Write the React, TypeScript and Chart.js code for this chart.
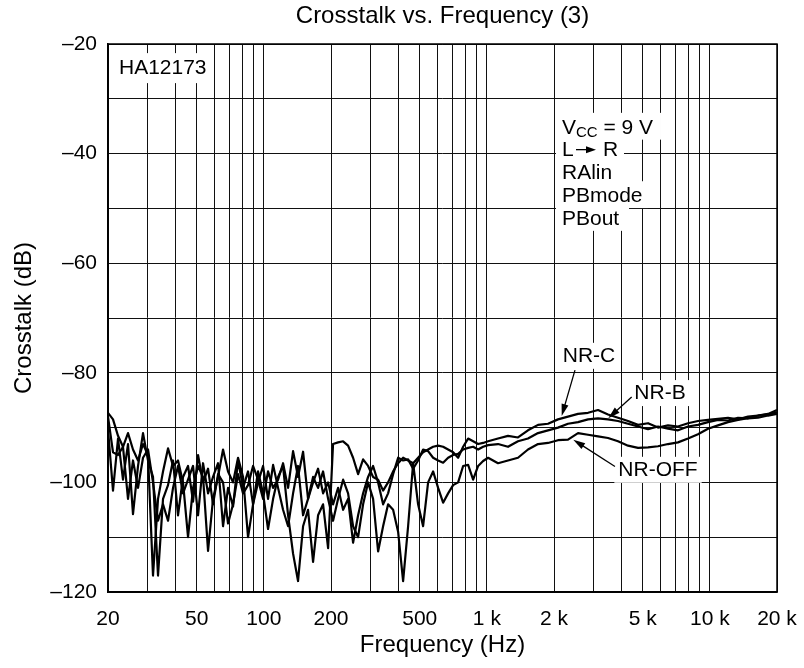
import React, { useEffect, useRef } from "react";
import { Chart, registerables } from "chart.js";

Chart.register(...registerables);

const FONT = '"Liberation Sans", Arial, Helvetica, sans-serif';

const FREQ_HZ = [
  20, 21.06, 22.18, 23.35, 24.59, 25.89, 27.27, 28.71, 30.23, 31.83,
  33.52, 35.3, 37.17, 39.14, 41.21, 43.4, 45.7, 48.12, 50.67, 53.36,
  56.19, 59.16, 62.3, 65.6, 69.08, 72.74, 76.6, 80.66, 84.93, 89.43,
  94.17, 99.16, 104.4, 110, 115.8, 121.9, 128.4, 135.2, 142.3, 149.9,
  157.8, 166.2, 175, 184.3, 194.1, 204.3, 215.2, 226.6, 238.6, 251.2,
  264.6, 278.6, 293.3, 308.9, 325.3, 342.5, 360.6, 379.8, 399.9, 421.1,
  443.4, 466.9, 491.6, 517.7, 545.1, 574, 604.5, 636.5, 670.2, 705.8,
  743.2, 782.6, 824, 867.7, 913.7, 962.1, 1013,
  1122, 1244, 1379, 1529, 1696, 1880, 2084, 2311, 2563, 2842,
  3151, 3494, 3873, 4295, 4762, 5280, 5854, 6491, 7197, 7980,
  8847, 9809, 10874, 12058, 13370, 14825, 16437, 18226, 20000,
];

// Crosstalk (dB), NR-C
const NR_C_DB = [
  -87.3, -88.5, -91.5, -93.5, -91, -94, -96, -93, -95, -117,
  -103, -98, -93.8, -97, -96, -100, -110, -101, -97, -99,
  -112.5, -103, -99, -94, -98, -100, -95.5, -99, -110, -104,
  -98, -102, -108.5, -103, -99, -97, -106, -113, -118, -108,
  -105, -114.5, -106, -104, -112, -93, -92.7, -92.5, -93.3, -95.5,
  -98.5, -95.8, -97, -99, -99.5, -101.5, -100, -98, -96.5, -95.5,
  -96, -96.5, -95.5, -94.5, -94, -93.5, -93.3, -93.5, -94, -94.5,
  -95.5, -93.5, -92, -92.5, -93, -92.8, -92.5,
  -92, -91.5, -91.8, -90.5, -89.5, -89.3, -88.5, -88, -87.5, -87.3,
  -86.8, -87.6, -88.2, -88.8, -89.5, -89.2, -90, -89.6, -89.8, -89.2,
  -88.8, -88.6, -88.4, -88.2, -88.5, -88, -87.8, -87.5, -86.8,
];

// Crosstalk (dB), NR-B
const NR_B_DB = [
  -90.3, -101.5, -92, -99.5, -93, -105.8, -97, -91, -96, -99,
  -117, -103, -100.5, -96, -106, -99, -97, -103.5, -95, -100,
  -97.5, -104, -98.5, -100, -107.5, -104, -98.5, -102, -100.5, -97,
  -99.5, -103, -98, -101, -99.5, -96.5, -101, -94.3, -99, -94.4,
  -103, -100, -97.5, -102, -100, -104, -101, -105, -103, -111,
  -106, -102, -99, -97, -100, -104, -102, -98.5, -95.5, -96,
  -95.8, -97.5, -96, -94, -94.3, -95.5, -96, -96.4, -95.5, -95,
  -94.8, -94, -93.7, -93.5, -94, -93.5, -93.2,
  -93, -93.5, -92.5, -92, -91, -90.5, -90, -89.3, -89, -88.5,
  -88.3, -88.5, -88.8, -89.3, -89.8, -90.3, -89.8, -90.2, -90.5, -89.8,
  -89.5, -89, -88.6, -88.7, -88.2, -88.3, -87.8, -87.6, -87.2,
];

// Crosstalk (dB), NR-OFF
const NR_OFF_DB = [
  -88, -94.5, -95, -93.5, -103, -96, -101, -95.5, -94, -100,
  -107, -104, -107, -101, -97, -102, -99.5, -97, -106, -96.5,
  -102, -99, -96.5, -108, -101, -104.4, -96, -101, -98, -104,
  -100, -97, -103, -96.8, -101, -105, -108, -102, -97, -106,
  -103, -99, -101, -98, -103, -107, -103, -99.5, -102, -108,
  -110, -104, -100, -103, -112.6, -108, -104, -105, -109, -118,
  -108, -96.5, -104, -108, -100, -98, -101, -103.7, -102, -100.5,
  -100, -97, -96.8, -99.5, -97, -96.1, -95.5,
  -96.5, -96, -95.5, -94, -93, -92.8, -92.3, -92.2, -91, -91.3,
  -91.6, -91.9, -92.5, -93.3, -93.7, -93.6, -93.4, -93, -92.7, -92,
  -91.2, -90.2, -89.6, -89, -88.6, -88.3, -88.2, -87.8, -87.5,
];

// Axes
const X_MIN_HZ = 20;
const X_MAX_HZ = 20000;
const X_GRID_HZ = [
  20, 30, 40, 50, 60, 70, 80, 90, 100,
  200, 300, 400, 500, 600, 700, 800, 900, 1000,
  2000, 3000, 4000, 5000, 6000, 7000, 8000, 9000, 10000, 20000,
];
const X_LABEL_HZ = [20, 50, 100, 200, 500, 1000, 2000, 5000, 10000, 20000];
const X_LABEL_TEXT = ["20", "50", "100", "200", "500", "1 k", "2 k", "5 k", "10 k", "20 k"];
const Y_MIN_DB = -120;
const Y_MAX_DB = -20;
const Y_GRID_STEP = 10;
const Y_LABEL_STEP = 20;

const TITLE = "Crosstalk vs. Frequency (3)";
const COND_LINES = ["VCC = 9 V", "L → R", "RAlin", "PBmode", "PBout"];

function drawBgText(ctx: CanvasRenderingContext2D, text: string, x: number, y: number, align: CanvasTextAlign, padX = 5, padY = 3) {
  const w = ctx.measureText(text).width;
  const left = align === "center" ? x - w / 2 : align === "right" ? x - w : x;
  ctx.fillStyle = "#fff";
  ctx.fillRect(left - padX, y - 11 - padY, w + padX * 2, 22 + padY * 2);
  ctx.fillStyle = "#000";
  ctx.textAlign = align;
  ctx.fillText(text, x, y);
}

function drawArrow(ctx: CanvasRenderingContext2D, x0: number, y0: number, x1: number, y1: number, head = 12, half = 3.5) {
  const ang = Math.atan2(y1 - y0, x1 - x0);
  ctx.strokeStyle = "#000";
  ctx.fillStyle = "#000";
  ctx.lineWidth = 1.3;
  ctx.beginPath();
  ctx.moveTo(x0, y0);
  ctx.lineTo(x1 - Math.cos(ang) * head * 0.8, y1 - Math.sin(ang) * head * 0.8);
  ctx.stroke();
  ctx.beginPath();
  ctx.moveTo(x1, y1);
  ctx.lineTo(x1 - Math.cos(ang) * head - Math.sin(ang) * half, y1 - Math.sin(ang) * head + Math.cos(ang) * half);
  ctx.lineTo(x1 - Math.cos(ang) * head + Math.sin(ang) * half, y1 - Math.sin(ang) * head - Math.cos(ang) * half);
  ctx.closePath();
  ctx.fill();
}

const annotationPlugin = {
  id: "annotations",
  beforeDatasetsDraw(chart: any) {
    const { ctx, scales, chartArea } = chart;
    const xs = scales.x;
    const ys = scales.y;
    const px = (f: number) => xs.getPixelForValue(f);
    const py = (d: number) => ys.getPixelForValue(d);
    ctx.save();

    // chart title, centred over the plot area
    ctx.font = `24px ${FONT}`;
    ctx.textBaseline = "middle";
    ctx.textAlign = "center";
    ctx.fillStyle = "#000";
    ctx.fillText(TITLE, (chartArea.left + chartArea.right) / 2, 16);

    ctx.font = `21px ${FONT}`;

    // device name
    drawBgText(ctx, "HA12173", px(22.4), py(-24.4), "left", 6, 4);

    // test conditions block
    const cx = px(2172);
    const cy = py(-35.3);
    const lh = 22.8;
    ctx.fillStyle = "#fff";
    const widths = [93, 56, 56, 80, 61];
    widths.forEach((w, i) => {
      ctx.fillRect(cx - 6, cy + i * lh - 15, w + 12, lh + 4);
    });
    ctx.fillStyle = "#000";
    ctx.textAlign = "left";
    ctx.fillText("V", cx, cy);
    const vw = ctx.measureText("V").width;
    ctx.font = `15px ${FONT}`;
    ctx.fillText("CC", cx + vw, cy + 5);
    const ccw = ctx.measureText("CC").width;
    ctx.font = `21px ${FONT}`;
    ctx.fillText(" = 9 V", cx + vw + ccw, cy);
    const y2 = cy + lh;
    ctx.fillText("L", cx, y2);
    drawArrow(ctx, cx + 14, y2 - 1, cx + 34, y2 - 1, 10, 3.5);
    ctx.font = `21px ${FONT}`;
    ctx.fillStyle = "#000";
    ctx.fillText("R", cx + 41, y2);
    ctx.fillText(COND_LINES[2], cx, cy + 2 * lh);
    ctx.fillText(COND_LINES[3], cx, cy + 3 * lh);
    ctx.fillText(COND_LINES[4], cx, cy + 4 * lh);

    // curve labels
    drawBgText(ctx, "NR-C", px(2870), py(-76.9), "center", 4, 2);
    drawBgText(ctx, "NR-B", px(5976), py(-83.7), "center", 4, 2);
    drawBgText(ctx, "NR-OFF", px(5854), py(-97.7), "center", 4, 2);
    drawArrow(ctx, px(2484), py(-79.5), px(2165), py(-87.9));
    drawArrow(ctx, px(4460), py(-84.4), px(3503), py(-88.3));
    drawArrow(ctx, px(3753), py(-97.1), px(2440), py(-92.2));
    ctx.restore();
  },
  afterDatasetsDraw(chart: any) {
    const { ctx, chartArea: a } = chart;
    ctx.save();
    ctx.strokeStyle = "#000";
    ctx.lineWidth = 1.5;
    ctx.strokeRect(a.left, a.top, a.right - a.left, a.bottom - a.top);
    ctx.restore();
  },
};

function fmtDb(v: number): string {
  return v < 0 ? "\u2013" + Math.abs(v) : String(v);
}

export default function App() {
  const ref = useRef<HTMLCanvasElement | null>(null);

  useEffect(() => {
    if (!ref.current) return;
    const mk = (vals: number[]) => ({
      data: FREQ_HZ.map((f, i) => ({ x: f, y: vals[i] })),
      borderColor: "#000",
      backgroundColor: "#000",
      borderWidth: 2.2,
      pointRadius: 0,
      tension: 0,
      borderJoinStyle: "round" as const,
      fill: false,
    });
    const chart = new Chart(ref.current, {
      type: "line",
      data: {
        datasets: [
          { label: "NR-C", ...mk(NR_C_DB) },
          { label: "NR-B", ...mk(NR_B_DB) },
          { label: "NR-OFF", ...mk(NR_OFF_DB) },
        ],
      },
      options: {
        animation: false,
        responsive: false,
        events: [],
        layout: { padding: { left: 0, right: 27, top: 44, bottom: 0 } },
        plugins: {
          legend: { display: false },
          tooltip: { enabled: false },
          title: { display: false },
        },
        scales: {
          x: {
            type: "logarithmic",
            min: X_MIN_HZ,
            max: X_MAX_HZ,
            afterBuildTicks: (s: any) => {
              s.ticks = X_GRID_HZ.map((v) => ({ value: v }));
            },
            afterFit: (s: any) => {
              s.height = 76;
              s.paddingLeft = 0;
              s.paddingRight = 0;
            },
            ticks: {
              autoSkip: false,
              maxRotation: 0,
              minRotation: 0,
              padding: 15,
              color: "#000",
              font: { family: FONT, size: 21 },
              callback: (v: any) => {
                const i = X_LABEL_HZ.indexOf(Number(v));
                return i >= 0 ? X_LABEL_TEXT[i] : "";
              },
            },
            grid: { color: "#111", lineWidth: 1, drawTicks: false },
            border: { color: "#000", width: 1.5 },
            title: {
              display: true,
              text: "Frequency (Hz)",
              color: "#000",
              font: { family: FONT, size: 24 },
              padding: { top: 0, bottom: 8 },
            },
          },
          y: {
            type: "linear",
            min: Y_MIN_DB,
            max: Y_MAX_DB,
            afterFit: (s: any) => {
              s.width = 108;
              s.paddingTop = 0;
              s.paddingBottom = 0;
            },
            ticks: {
              stepSize: Y_GRID_STEP,
              padding: 11,
              color: "#000",
              font: { family: FONT, size: 21 },
              callback: (v: any) => (Number(v) % Y_LABEL_STEP === 0 ? fmtDb(Number(v)) : ""),
            },
            grid: { color: "#111", lineWidth: 1, drawTicks: false },
            border: { color: "#000", width: 1.5 },
            title: {
              display: true,
              text: "Crosstalk (dB)",
              color: "#000",
              font: { family: FONT, size: 24 },
              padding: { top: 10, bottom: 0 },
            },
          },
        },
      },
      plugins: [annotationPlugin],
    } as any);
    return () => chart.destroy();
  }, []);

  return (
    <div style={{ position: "fixed", left: 0, top: 0, width: 804, height: 668, background: "#fff" }}>
      <canvas ref={ref} width={804} height={668} style={{ display: "block" }} />
    </div>
  );
}
